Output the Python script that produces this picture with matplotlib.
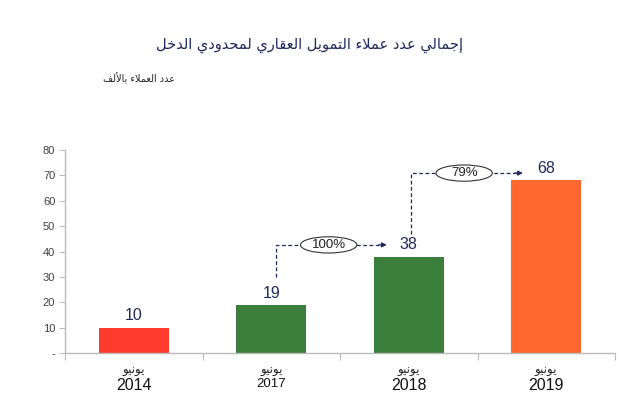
import matplotlib
matplotlib.use("Agg")
import matplotlib.pyplot as plt
from matplotlib.patches import Ellipse
from matplotlib.transforms import blended_transform_factory

# ---------------- data ----------------
title_text = "إجمالي عدد عملاء التمويل العقاري لمحدودي الدخل"
unit_text = "عدد العملاء بالألف"
month_labels = ["يونيو", "يونيو", "يونيو", "يونيو"]
years = ["2014", "2017", "2018", "2019"]
values = [10, 19, 38, 68]
y_ticks = [0, 10, 20, 30, 40, 50, 60, 70, 80]
y_tick_labels = ["-", "10", "20", "30", "40", "50", "60", "70", "80"]
growth_pairs = [(1, 2), (2, 3)]

# ---------------- styles ----------------
bar_colors = ["#FF3B2B", "#3B7D3B", "#3B7D3B", "#FF672E"]
year_sizes = [11.5, 9.5, 11.5, 11.5]
navy = "#1F2A5C"
num_font = ["Liberation Sans", "DejaVu Sans"]

# ---------------- minimal Arabic shaping ----------------
FORMS = {
    "\u0621": ("\uFE80", None, None, None),
    "\u0623": ("\uFE83", "\uFE84", None, None),
    "\u0625": ("\uFE87", "\uFE88", None, None),
    "\u0627": ("\uFE8D", "\uFE8E", None, None),
    "\u0628": ("\uFE8F", "\uFE90", "\uFE91", "\uFE92"),
    "\u062A": ("\uFE95", "\uFE96", "\uFE97", "\uFE98"),
    "\u062C": ("\uFE9D", "\uFE9E", "\uFE9F", "\uFEA0"),
    "\u062D": ("\uFEA1", "\uFEA2", "\uFEA3", "\uFEA4"),
    "\u062E": ("\uFEA5", "\uFEA6", "\uFEA7", "\uFEA8"),
    "\u062F": ("\uFEA9", "\uFEAA", None, None),
    "\u0631": ("\uFEAD", "\uFEAE", None, None),
    "\u0639": ("\uFEC9", "\uFECA", "\uFECB", "\uFECC"),
    "\u0641": ("\uFED1", "\uFED2", "\uFED3", "\uFED4"),
    "\u0642": ("\uFED5", "\uFED6", "\uFED7", "\uFED8"),
    "\u0644": ("\uFEDD", "\uFEDE", "\uFEDF", "\uFEE0"),
    "\u0645": ("\uFEE1", "\uFEE2", "\uFEE3", "\uFEE4"),
    "\u0646": ("\uFEE5", "\uFEE6", "\uFEE7", "\uFEE8"),
    "\u0648": ("\uFEED", "\uFEEE", None, None),
    "\u064A": ("\uFEF1", "\uFEF2", "\uFEF3", "\uFEF4"),
}
LAM_ALEF = {"\u0627": ("\uFEFB", "\uFEFC"), "\u0623": ("\uFEF7", "\uFEF8"),
            "\u0625": ("\uFEF9", "\uFEFA")}


def dual(c):
    return c in FORMS and FORMS[c][2] is not None


def joins(c):
    return c in FORMS and FORMS[c][1] is not None


def shape(text):
    units = []
    i = 0
    while i < len(text):
        c = text[i]
        if c == "\u0644" and i + 1 < len(text) and text[i + 1] in LAM_ALEF:
            units.append(("LA", text[i + 1]))
            i += 2
        else:
            units.append(("C", c))
            i += 1
    out = []
    for k, (kind, c) in enumerate(units):
        prev = units[k - 1] if k > 0 else None
        nxt = units[k + 1] if k + 1 < len(units) else None
        cp = prev is not None and prev[0] == "C" and dual(prev[1])
        if kind == "LA":
            out.append(LAM_ALEF[c][1] if cp else LAM_ALEF[c][0])
            continue
        if c not in FORMS:
            out.append(c)
            continue
        nxt_joins = nxt is not None and (nxt[0] == "LA" or joins(nxt[1]))
        cn = dual(c) and nxt_joins
        cp = cp and joins(c)
        iso, fin, ini, med = FORMS[c]
        if cp and cn:
            out.append(med)
        elif cp:
            out.append(fin)
        elif cn:
            out.append(ini)
        else:
            out.append(iso)
    return "".join(out)[::-1]


# ---------------- figure ----------------
plt.rcParams["font.family"] = ["DejaVu Sans"]
fig = plt.figure(figsize=(6.2, 4.16), dpi=100)
ax = fig.add_axes([65 / 620, 1 - 353 / 416, 550 / 620, 203 / 416])

x = list(range(len(values)))
ax.bar(x, values, width=0.51, color=bar_colors, edgecolor="none", zorder=2)
ax.set_xlim(-0.5, len(values) - 0.5)
ax.set_ylim(0, 80)

for xi, v in zip(x, values):
    ax.annotate(str(v), (xi, v), xytext=(0, 3), textcoords="offset points",
                ha="center", va="bottom", fontsize=11.5, color=navy,
                family=num_font)

# y axis
ax.set_yticks(y_ticks)
ax.set_yticklabels(y_tick_labels, fontsize=8, color="#404040", family=num_font)
ax.tick_params(axis="y", length=4, color="#BBBBBB", pad=3)

# x axis: ticks at boundaries, labels at centers
ax.set_xticks([i + 0.5 for i in range(-1, len(values))])
ax.set_xticklabels([])
ax.tick_params(axis="x", length=5, color="#BBBBBB", direction="out")
trans = blended_transform_factory(ax.transData, ax.transAxes)
for xi, m, yr, fs in zip(x, month_labels, years, year_sizes):
    ax.text(xi, -0.055, shape(m), transform=trans, ha="center", va="top",
            fontsize=8.5, color="#222222")
    ax.text(xi, -0.125, yr, transform=trans, ha="center", va="top",
            fontsize=fs, color="#111111", family=num_font)

for s in ["top", "right"]:
    ax.spines[s].set_visible(False)
for s in ["left", "bottom"]:
    ax.spines[s].set_color("#BBBBBB")
    ax.spines[s].set_linewidth(1.0)

# growth arrows
rise_start = [11, 9]
rise_top = [4.6, 2.9]
x_start = [0.035, 0.016]
x_end = [-0.16, -0.17]
for (a, b), rs, rt, xs, xe in zip(growth_pairs, rise_start, rise_top, x_start, x_end):
    pct = round((values[b] - values[a]) / values[a] * 100)
    y0 = values[a] + rs
    y1 = values[b] + rt
    xa = a + xs
    xb = b + xe
    ax.plot([xa, xa, xb - 0.05], [y0, y1, y1], ls=(0, (3, 2)), color="#1F2A5C",
            lw=0.9, zorder=3)
    ax.annotate("", xy=(xb, y1), xytext=(xb - 0.06, y1),
                arrowprops=dict(arrowstyle="-|>", color="#1F2A5C", lw=0.9,
                                mutation_scale=7, shrinkA=0, shrinkB=0), zorder=3)
    xc = (xa + xb) / 2 - 0.02
    ell = Ellipse((xc, y1), width=0.41, height=6.4, facecolor="white",
                  edgecolor="#333333", lw=0.8, zorder=4)
    ax.add_patch(ell)
    ax.text(xc, y1, f"{pct}%", ha="center", va="center", fontsize=9.5,
            color="#222222", zorder=5, family=num_font)

# titles
fig.text(310 / 620, 1 - 45 / 416, shape(title_text), ha="center", va="center",
         fontsize=10.5, color=navy)
fig.text(175 / 620, 1 - 78 / 416, shape(unit_text), ha="right", va="center",
         fontsize=7, color="#222222")

fig.savefig("out.png", dpi=100)
